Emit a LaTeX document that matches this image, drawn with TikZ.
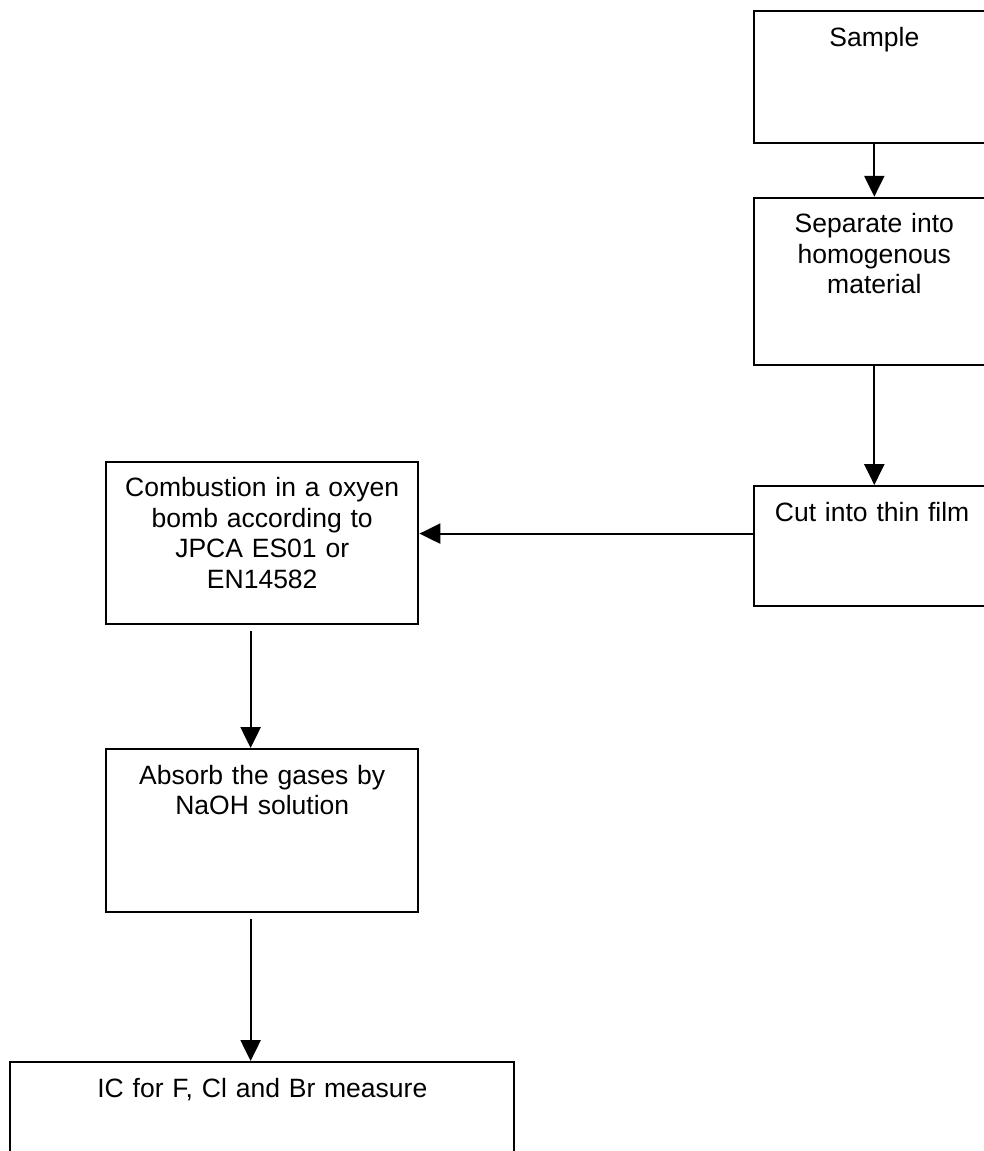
\documentclass[tikz,border=0pt]{standalone}
\usepackage{fontspec}
\setmainfont{Liberation Sans}
\usetikzlibrary{arrows.meta}
\tikzset{
    procbox/.style={rectangle,draw,line width=1.4pt,inner sep=0pt,anchor=north west,align=center,
                    text height=0.875cm,font=\fontsize{18.85pt}{21.7pt}\selectfont},
    rightcol/.style={text width=6.03cm},
    leftcol/.style={text width=7.81cm},
    flow/.style={arrows={-Triangle[length=0.52cm,width=0.5cm]},line width=1.3pt},
    }
\begin{document}
\begin{tikzpicture}[x=0.025cm,y=-0.025cm]
	\useasboundingbox (0,0) rectangle (984,1151);

		\node[procbox,rightcol,text height=0.9cm,text depth=2.41cm] (sample) at (752.7,10) {Sample};
		\node[procbox,rightcol,text depth=3.31cm] (sep) at (752.7,196.7) {Separate into\\homogenous\\material};
		\node[procbox,align=left,inner xsep=0.53cm,text width=4.97cm,text depth=2.125cm] (cut) at (752.7,485) {Cut into thin film};

		\node[procbox,leftcol,text depth=3.18cm] (comb) at (105,460.7) {Combustion in a oxyen\\bomb according to\\JPCA ES01 or\\EN14582};
		\node[procbox,leftcol,text depth=3.19cm] (absorb) at (105,748) {Absorb the gases by\\NaOH solution};

		\node[procbox,text width=12.6cm,text depth=2.7cm] (ic) at (9.3,1061) {IC for F, Cl and Br measure};


	\draw[flow] (sample) -- (sep);
	\draw[flow] (sep) -- (cut);

	\draw[flow] ([yshift=0.31cm]cut.west) -- ([yshift=0.31cm]cut.west -| comb.east);

	\draw[flow] ([xshift=-0.29cm,yshift=-0.15cm]comb.south) -- ([xshift=-0.29cm]comb.south |- absorb.north);
	\draw[flow] ([xshift=-0.29cm,yshift=-0.15cm]absorb.south) -- ([xshift=-0.29cm]absorb.south |- ic.north);
    \end{tikzpicture}
\end{document}
